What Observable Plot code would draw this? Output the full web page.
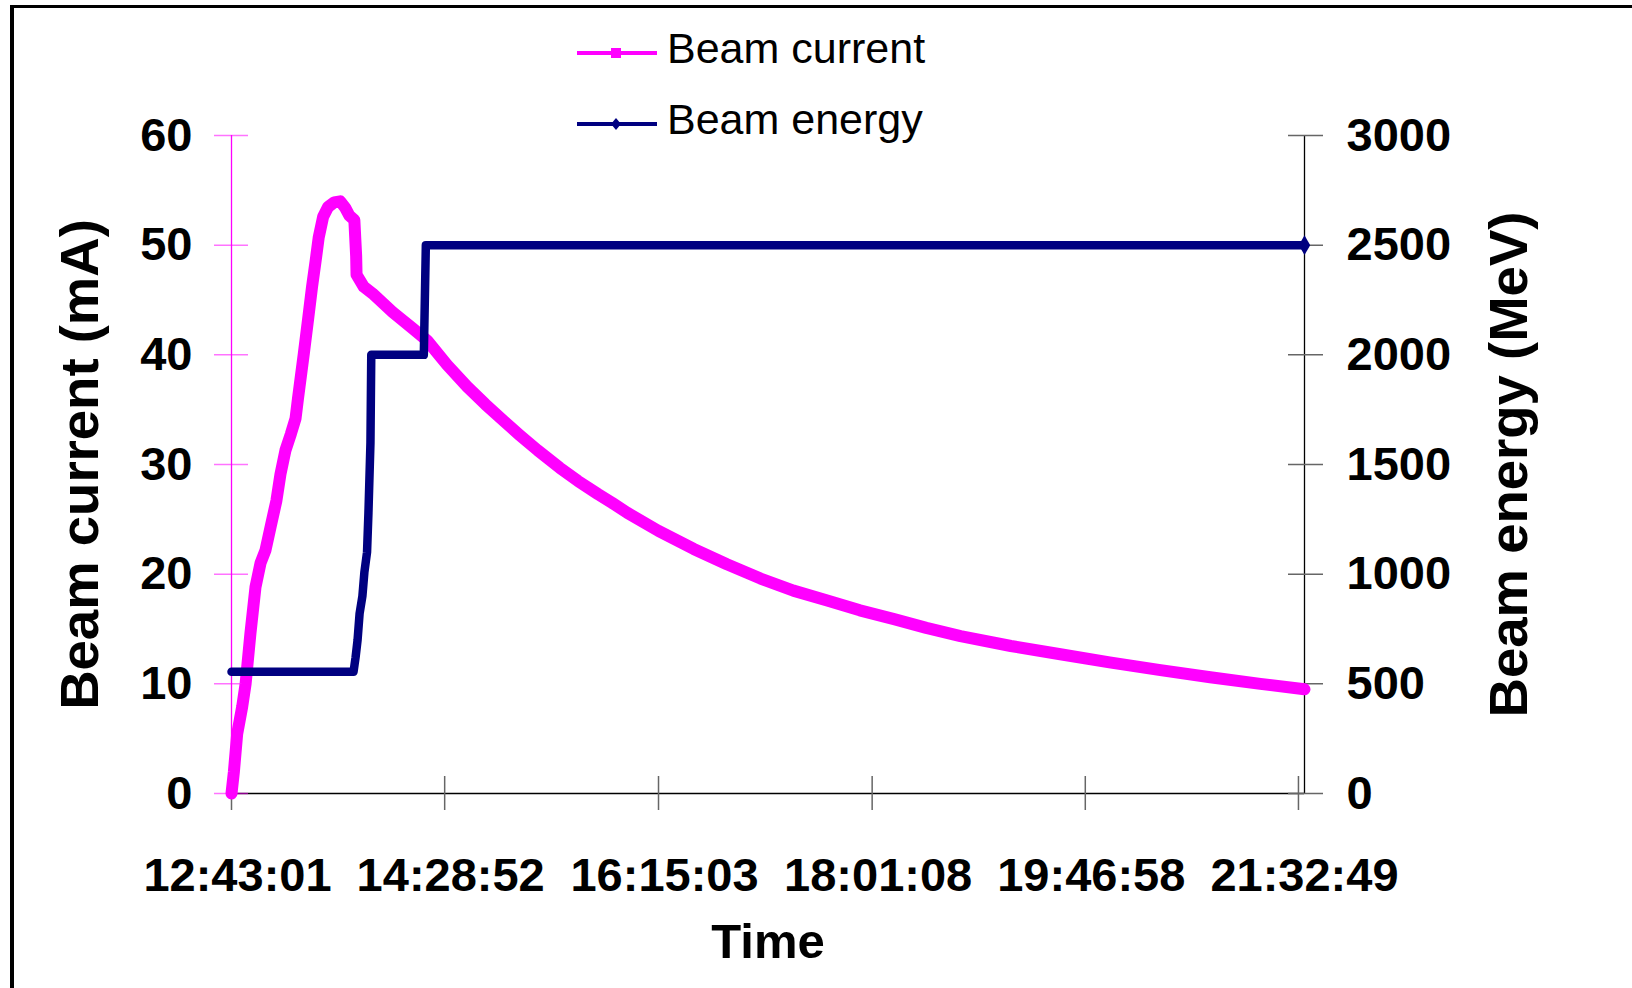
<!DOCTYPE html>
<html>
<head>
<meta charset="utf-8">
<script src="https://cdn.jsdelivr.net/npm/d3@7"></script>
<script src="https://cdn.jsdelivr.net/npm/@observablehq/plot@0.6"></script>
<style>
  html, body { margin: 0; padding: 0; background: #fff; }
  #wrap { position: relative; width: 1632px; height: 988px; overflow: hidden; background: #fff;
          font-family: "Liberation Sans", Arial, sans-serif; }
  #border { position: absolute; left: 10px; top: 5px; width: 1700px; height: 1100px;
            border-left: 4px solid #000; border-top: 3px solid #000; }
  #chart { position: absolute; left: 0; top: 0; }
  .lg { position: absolute; white-space: nowrap; font-size: 43px; line-height: 43px; color: #000; }
  .sw { position: absolute; }
</style>
</head>
<body>
<div id="wrap">
  <div id="border"></div>
  <div id="chart"></div>
  <svg class="sw" style="left:572px;top:43px" width="92" height="20">
    <line x1="5" y1="10" x2="85" y2="10" stroke="#ff00ff" stroke-width="4"/>
    <rect x="39" y="5" width="10" height="10" fill="#ff00ff"/>
  </svg>
  <div class="lg" style="left:667px;top:27px">Beam current</div>
  <svg class="sw" style="left:572px;top:114px" width="92" height="20">
    <line x1="5" y1="10" x2="85" y2="10" stroke="#000080" stroke-width="4"/>
    <path d="M44,4 L49,10 L44,16 L39,10 Z" fill="#000080"/>
  </svg>
  <div class="lg" style="left:667px;top:98px">Beam energy</div>
</div>
<script>
// Tick labels on the time axis (clock time)
const tickLabels = ["12:43:01", "14:28:52", "16:15:03", "18:01:08", "19:46:58", "21:32:49"];
// Left axis (beam current, mA) and right axis (beam energy, MeV) ticks
const currentTicks = [0, 10, 20, 30, 40, 50, 60];
const energyTicks = [0, 500, 1000, 1500, 2000, 2500, 3000];

// Beam current: minutes elapsed since 12:43:01, and current in mA
const currentTime = [0, 1.2, 2.8, 5.3, 7.0, 9.4, 11.9, 14.4, 16.9, 19.4, 22.3, 24.3, 26.8, 29.5, 31.8,
  33.0, 35.9, 38.0, 40.0, 41.8, 43.3, 45.5, 48.0, 51.0, 54.0, 56.5, 58.5, 61.0, 61.9, 62.1,
  65.7, 70, 80, 90, 97.2, 107, 117, 126, 135, 143, 152, 163, 172, 182, 189, 196.5, 212, 229.5,
  246, 262.7, 279, 295.8, 312, 329, 345, 362, 387, 411.6, 436, 461.3, 486, 510.9, 532.8];
const currentValue = [0, 2.0, 5.4, 7.9, 10.0, 14.6, 18.8, 21.0, 22.2, 24.3, 26.7, 29.1, 31.3, 32.8, 34.2,
  36.0, 40.1, 43.2, 46.2, 48.6, 50.7, 52.6, 53.5, 53.9, 54.0, 53.4, 52.7, 52.3, 49.0, 47.3,
  46.2, 45.6, 43.9, 42.4, 41.3, 39.1, 37.1, 35.5, 34.0, 32.7, 31.3, 29.7, 28.5, 27.3, 26.5, 25.6, 23.95, 22.3,
  20.9, 19.6, 18.5, 17.6, 16.7, 15.9, 15.1, 14.35, 13.45, 12.7, 11.95, 11.25, 10.6, 10.0, 9.5];

// Beam energy: minutes elapsed since 12:43:01, and energy in MeV
const energyTime = [0, 60.6, 61.6, 62.6, 63.6, 65.0, 66.0, 67.3, 68.0, 69.0, 69.4, 95.5, 96.5, 532.8];
const energyValue = [555, 555, 620, 700, 820, 900, 1010, 1100, 1280, 1600, 2000, 2000, 2500, 2500];

const toSec = s => { const [h, m, x] = s.split(":").map(Number); return h * 3600 + m * 60 + x; };
const tickPos = tickLabels.map(s => (toSec(s) - toSec(tickLabels[0])) / 60);
const xEnd = currentTime[currentTime.length - 1];
const ratio = currentTicks[currentTicks.length - 1] / energyTicks[energyTicks.length - 1];

const current = currentTime.map((t, i) => ({t, v: currentValue[i]}));
const energy = energyTime.map((t, i) => ({t, e: energyValue[i]}));

const chart = Plot.plot({
  width: 1632,
  height: 988,
  marginLeft: 231,
  marginRight: 328,
  marginTop: 135,
  marginBottom: 195,
  x: {domain: [0, xEnd]},
  y: {domain: [currentTicks[0], currentTicks[currentTicks.length - 1]]},
  style: {fontFamily: '"Liberation Sans", Arial, sans-serif', background: "transparent", overflow: "visible"},
  marks: [
    Plot.ruleY([0], {stroke: "#000", strokeWidth: 1.5}),
    Plot.ruleX([0], {stroke: "#ff00ff", strokeWidth: 1.3}),
    Plot.ruleX([xEnd], {stroke: "#000", strokeWidth: 1.3}),
    Plot.axisY({anchor: "left", ticks: currentTicks, tickSize: 34, dx: 17, tickPadding: 22,
      stroke: "#ff00ff", strokeOpacity: 0.55, strokeWidth: 1.5, fill: "#000",
      fontSize: 47, fontWeight: "bold", label: null}),
    Plot.axisY({anchor: "left", ticks: [], label: "Beam current (mA)", labelAnchor: "center",
      labelArrow: "none", labelOffset: 172, fontSize: 54.5, fontWeight: "bold", fill: "#000"}),
    Plot.axisY({anchor: "right", ticks: currentTicks,
      tickFormat: d => String(energyTicks[currentTicks.indexOf(d)]),
      tickSize: 35, dx: -17, tickPadding: 24, stroke: "#666", strokeWidth: 1.5, fill: "#000",
      fontSize: 47, fontWeight: "bold", label: null}),
    Plot.axisY({anchor: "right", ticks: [], label: "Beam energy (MeV)", labelAnchor: "center",
      labelArrow: "none", labelOffset: 222, fontSize: 54.5, fontWeight: "bold", fill: "#000"}),
    Plot.axisX({anchor: "bottom", ticks: tickPos, tickFormat: () => "", tickSize: 34, dy: -17,
      stroke: "#666", strokeWidth: 1.5, label: null}),
    Plot.axisX({anchor: "bottom", ticks: tickPos, tickFormat: d => tickLabels[tickPos.indexOf(d)],
      tickSize: 0, tickPadding: 64, dx: 6, fill: "#000", fontSize: 47, fontWeight: "bold", label: null}),
    Plot.axisX({anchor: "bottom", ticks: [], label: "Time", labelAnchor: "center", labelArrow: "none",
      labelOffset: 164, fontSize: 49, fontWeight: "bold", fill: "#000"}),
    Plot.line(current, {x: "t", y: "v", stroke: "#ff00ff", strokeWidth: 12, strokeLinejoin: "round"}),
    Plot.line(energy, {x: "t", y: d => d.e * ratio, stroke: "#000080", strokeWidth: 8.5,
      strokeLinejoin: "round", strokeLinecap: "round"}),
    Plot.dot(energy.slice(-1), {x: "t", y: d => d.e * ratio, symbol: "diamond", r: 6, fill: "#000080"})
  ]
});
document.getElementById("chart").appendChild(chart);
</script>
</body>
</html>
